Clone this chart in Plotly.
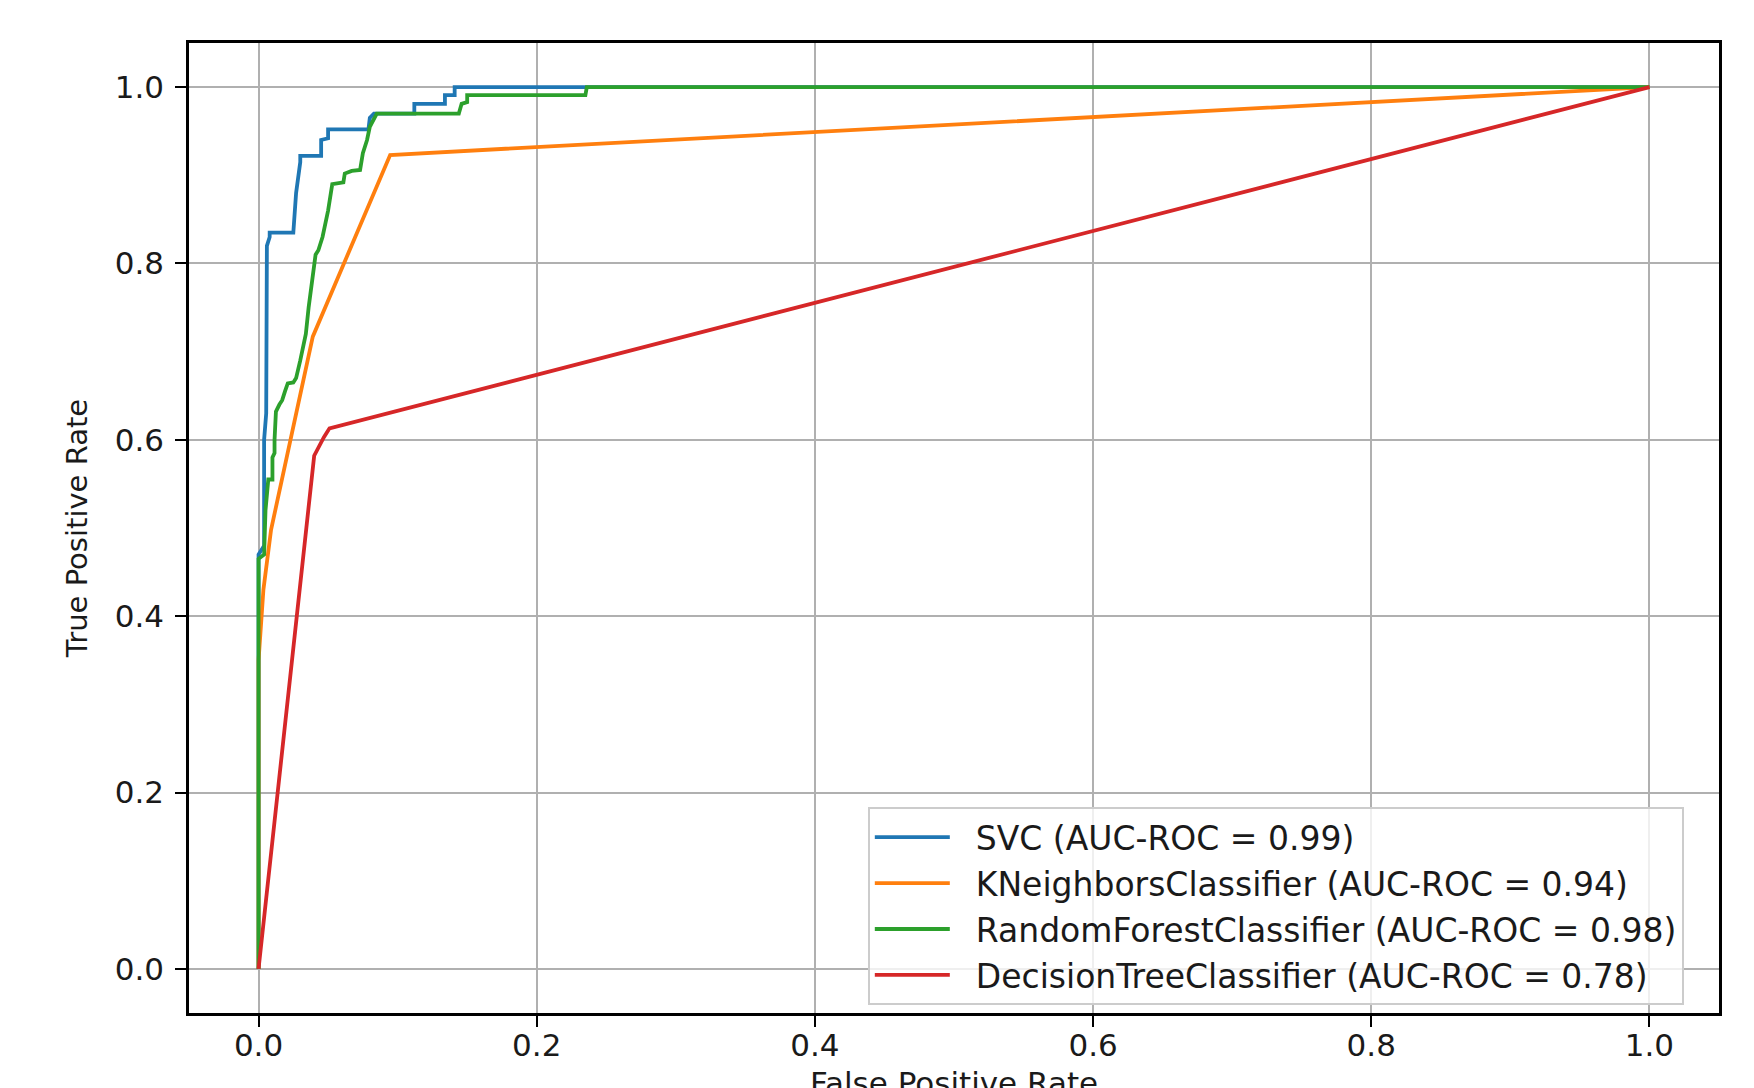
import plotly.graph_objects as go

# ---- data ----
svc_fpr = [0.0, 0.0, 0.0, 0.004, 0.004, 0.0055, 0.0055, 0.006, 0.008, 0.008, 0.025, 0.027, 0.030, 0.030,
           0.045, 0.045, 0.050, 0.050, 0.079, 0.080, 0.083, 0.112, 0.112, 0.134, 0.134, 0.141, 0.141, 1.0]
svc_tpr = [0.0, 0.03, 0.47, 0.48, 0.60, 0.63, 0.70, 0.82, 0.83, 0.835, 0.835, 0.88, 0.915, 0.922,
           0.922, 0.94, 0.942, 0.952, 0.952, 0.965, 0.970, 0.970, 0.981, 0.981, 0.991, 0.991, 1.0, 1.0]

knn_fpr = [0.0, 0.0, 0.0035, 0.009, 0.039, 0.0946, 1.0]
knn_tpr = [0.0, 0.35, 0.43, 0.498, 0.717, 0.923, 1.0]

rf_fpr = [0.0, 0.0, 0.0, 0.004, 0.005, 0.007, 0.010, 0.010, 0.0115, 0.0115, 0.0125, 0.015, 0.017, 0.019,
          0.021, 0.025, 0.027, 0.030, 0.034, 0.036, 0.038, 0.041, 0.043, 0.046, 0.050, 0.053, 0.061,
          0.062, 0.067, 0.073, 0.075, 0.078, 0.080, 0.083, 0.085, 0.144, 0.146, 0.150, 0.150, 0.235,
          0.236, 1.0]
rf_tpr = [0.0, 0.03, 0.465, 0.47, 0.52, 0.555, 0.555, 0.58, 0.585, 0.60, 0.632, 0.64, 0.645, 0.655,
          0.664, 0.665, 0.67, 0.69, 0.72, 0.75, 0.777, 0.81, 0.815, 0.83, 0.86, 0.89, 0.892,
          0.902, 0.905, 0.906, 0.925, 0.94, 0.955, 0.965, 0.970, 0.970, 0.981, 0.983, 0.991, 0.991,
          1.0, 1.0]

dt_fpr = [0.0, 0.040, 0.047, 0.051, 1.0]
dt_tpr = [0.0, 0.582, 0.603, 0.613, 1.0]

series_names = [
    "SVC (AUC-ROC = 0.99)",
    "KNeighborsClassifier (AUC-ROC = 0.94)",
    "RandomForestClassifier (AUC-ROC = 0.98)",
    "DecisionTreeClassifier (AUC-ROC = 0.78)",
]
series_colors = ["#1f77b4", "#ff7f0e", "#2ca02c", "#d62728"]
tick_vals = [0.0, 0.2, 0.4, 0.6, 0.8, 1.0]
tick_text = ["0.0", "0.2", "0.4", "0.6", "0.8", "1.0"]
x_title = "False Positive Rate"
y_title = "True Positive Rate"

series_x = [svc_fpr, knn_fpr, rf_fpr, dt_fpr]
series_y = [svc_tpr, knn_tpr, rf_tpr, dt_tpr]

fig = go.Figure()
for xs, ys, name, col in zip(series_x, series_y, series_names, series_colors):
    fig.add_trace(go.Scatter(x=xs, y=ys, mode="lines", name="\u00a0\u00a0" + name,
                             line=dict(color=col, width=3.8)))

font_family = "DejaVu Sans"
txt_color = "#1a1a1a"
axis_common = dict(
    showline=True, linecolor="black", linewidth=2.5, mirror=True,
    showgrid=True, gridcolor="#b0b0b0", gridwidth=2,
    ticks="outside", ticklen=11, tickwidth=2, tickcolor="black",
    tickvals=tick_vals, ticktext=tick_text,
    tickfont=dict(family=font_family, size=31, color=txt_color),
    zeroline=False, range=[-0.05, 1.05], automargin=False,
)

fig.update_layout(
    width=1746, height=1080,
    margin=dict(l=181, r=35, t=35, b=75),
    paper_bgcolor="white", plot_bgcolor="white",
    font=dict(family=font_family, color=txt_color),
    xaxis=dict(**axis_common, ticklabelstandoff=-8),
    yaxis=dict(**axis_common, ticklabelstandoff=5,
               title=dict(text=y_title, standoff=19,
                          font=dict(family=font_family, size=29, color=txt_color))),
    showlegend=True,
    legend=dict(
        x=0.977, y=0.008, xanchor="right", yanchor="bottom",
        bgcolor="rgba(255,255,255,0.8)", bordercolor="#cccccc", borderwidth=2,
        font=dict(family=font_family, size=33, color=txt_color),
        itemwidth=75, tracegroupgap=0,
    ),
    annotations=[dict(
        text=x_title, xref="paper", yref="paper", x=0.5, y=-0.072,
        xanchor="center", yanchor="middle", showarrow=False,
        font=dict(family=font_family, size=31, color=txt_color),
    )],
)

fig.write_html("out.html")
